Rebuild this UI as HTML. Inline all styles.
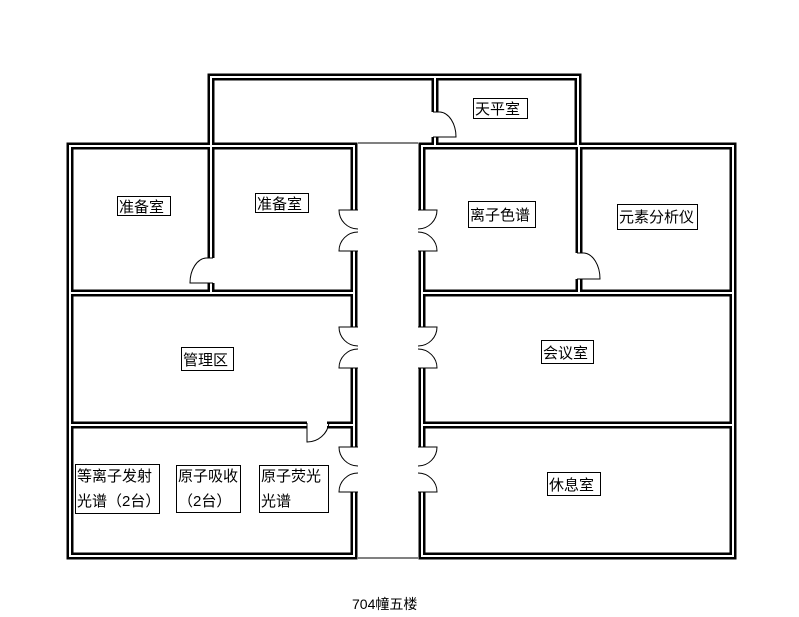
<!DOCTYPE html>
<html><head><meta charset="utf-8"><style>
body{margin:0;background:#fff;}
svg{display:block}
text{font-family:"Liberation Sans","Noto Sans CJK SC",sans-serif;font-size:15px;fill:#000}
</style></head><body>
<svg width="799" height="617" viewBox="0 0 799 617" xmlns="http://www.w3.org/2000/svg">
<g fill="none" stroke-linejoin="miter" stroke-linecap="butt">
<g stroke="#000" stroke-width="7">
<path d="M211,146 V77 H578 V146"/>
<path d="M435,77 V112 M435,137 V146"/>
<path d="M354,210 V146 H70 V556 H354 V492 M354,251 V327 M354,368 V447"/>
<path d="M211,146 V258 M211,283 V293"/>
<path d="M70,293 H354"/>
<path d="M70,425 H307 M327,425 H354"/>
<path d="M422,210 V146 H733 V556 H422 V492 M422,447 V368 M422,327 V251"/>
<path d="M579,146 V253 M579,279 V293"/>
<path d="M422,293 H733"/>
<path d="M422,425 H733"/>
</g>
<g stroke="#fff" stroke-width="2">
<path d="M211,146 V77 H578 V146"/>
<path d="M435,77 V112 M435,137 V146"/>
<path d="M354,210 V146 H70 V556 H354 V492 M354,251 V327 M354,368 V447"/>
<path d="M211,146 V258 M211,283 V293"/>
<path d="M70,293 H354"/>
<path d="M70,425 H307 M327,425 H354"/>
<path d="M422,210 V146 H733 V556 H422 V492 M422,447 V368 M422,327 V251"/>
<path d="M579,146 V253 M579,279 V293"/>
<path d="M422,293 H733"/>
<path d="M422,425 H733"/>
</g>
<g stroke="#000" stroke-width="1">
<path d="M358,143 H418 M358,558 H418"/>
<path d="M358,210 H339 A19 19 0 0 0 358,229 M358,232 A19 19 0 0 0 339,251 H358"/>
<path d="M358,327 H339 A19 19 0 0 0 358,346 M358,349 A19 19 0 0 0 339,368 H358"/>
<path d="M358,447 H339 A19 19 0 0 0 358,466 M358,473 A19 19 0 0 0 339,492 H358"/>
<path d="M418,210 H437 A19 19 0 0 1 418,229 M418,232 A19 19 0 0 1 437,251 H418"/>
<path d="M418,327 H437 A19 19 0 0 1 418,346 M418,349 A19 19 0 0 1 437,368 H418"/>
<path d="M418,447 H437 A19 19 0 0 1 418,466 M418,473 A19 19 0 0 1 437,492 H418"/>
<path d="M433,112 H440 A17 25 0 0 1 456,137 H433"/>
<path d="M213,258 H206 A17 25 0 0 0 190,283 H213"/>
<path d="M577,253 H584 A17 26 0 0 1 600,279 H577"/>
<path d="M307,423 V442 A22 22 0 0 0 329,423"/>
</g>
<g stroke="#000" stroke-width="1" fill="#fff">
<rect x="117.5" y="196.5" width="53" height="19"/>
<rect x="255.5" y="193.5" width="53" height="19"/>
<rect x="473.5" y="98.5" width="54" height="20"/>
<rect x="468.5" y="201.5" width="67" height="26"/>
<rect x="617.5" y="204.5" width="80" height="25"/>
<rect x="181.5" y="347.5" width="52" height="23"/>
<rect x="541.5" y="340.5" width="52" height="23"/>
<rect x="547.5" y="472.5" width="53" height="23"/>
<rect x="75.5" y="464.5" width="84" height="49"/>
<rect x="176.5" y="465.5" width="64" height="47"/>
<rect x="259.5" y="465.5" width="69" height="47"/>
</g>
</g>
<text x="119" y="212">准备室</text>
<text x="257" y="209">准备室</text>
<text x="475" y="114">天平室</text>
<text x="470" y="220">离子色谱</text>
<text x="619" y="222">元素分析仪</text>
<text x="183" y="365">管理区</text>
<text x="543" y="358">会议室</text>
<text x="549" y="490">休息室</text>
<text x="77" y="481">等离子发射</text>
<text x="77" y="506">光谱（2台）</text>
<text x="178" y="481">原子吸收</text>
<text x="178" y="506">（2台）</text>
<text x="261" y="481">原子荧光</text>
<text x="261" y="506">光谱</text>
<text x="352" y="609" style="font-size:14px">704幢五楼</text>
</svg>
</body></html>
